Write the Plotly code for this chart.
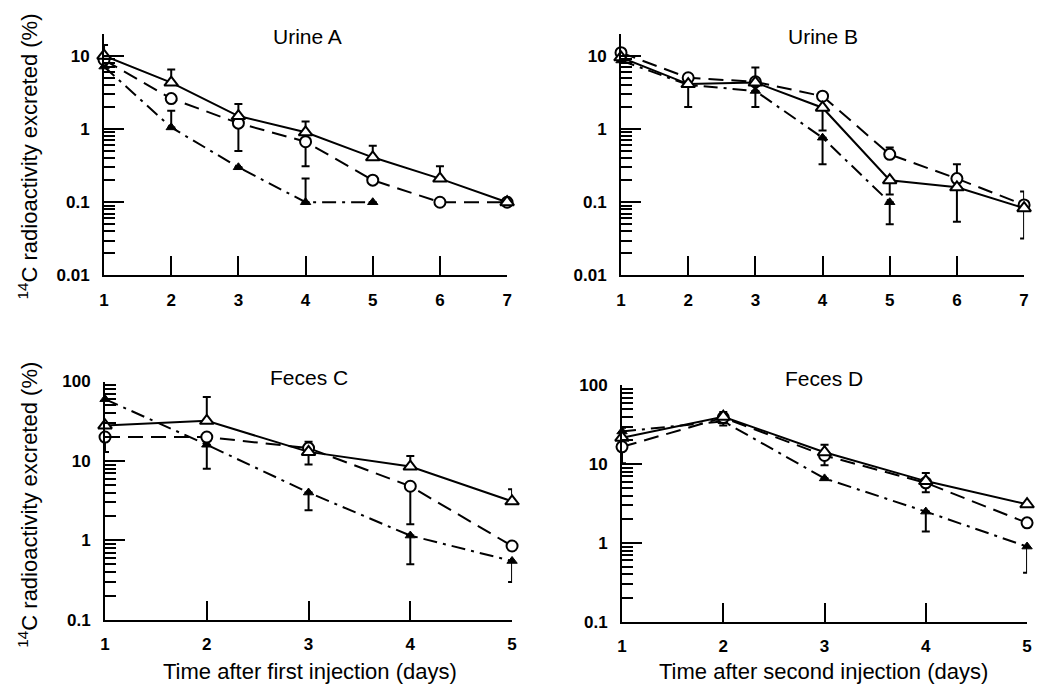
import plotly.graph_objects as go

# ---------------- data ----------------
days7 = [1, 2, 3, 4, 5, 6, 7]
days5 = [1, 2, 3, 4, 5]

# Urine A
uA_tri = [10, 4.3, 1.5, 0.9, 0.41, 0.21, 0.1]
uA_tri_hi = [14, 6.5, 2.2, 1.26, 0.59, 0.31, None]
uA_tri_lo = [None] * 7
uA_cir = [8.8, 2.6, 1.2, 0.67, 0.2, 0.1, 0.1]
uA_cir_hi = [None] * 7
uA_cir_lo = [None, None, 0.5, 0.31, None, None, None]
uA_fil = [7.1, 1.05, 0.3, 0.1, 0.1]
uA_fil_hi = [None, 1.77, None, 0.21, None]
uA_fil_lo = [None] * 5

# Urine B
uB_tri = [9.5, 4.1, 4.3, 1.95, 0.2, 0.16, 0.083]
uB_tri_hi = [None] * 7
uB_tri_lo = [None, 2.0, 2.0, 0.95, 0.128, 0.054, 0.032]
uB_cir = [11, 5.0, 4.4, 2.8, 0.45, 0.21, 0.092]
uB_cir_hi = [None, None, 6.9, 3.0, 0.56, 0.33, 0.14]
uB_cir_lo = [None] * 7
uB_fil = [8.6, 4.0, 3.3, 0.76, 0.1]
uB_fil_hi = [None] * 5
uB_fil_lo = [None, None, None, 0.33, 0.05]

# Feces C
fC_tri = [28, 32, 13, 8.5, 3.1]
fC_tri_hi = [None, 64, None, 11.5, 4.4]
fC_tri_lo = [None] * 5
fC_cir = [20, 20, 14.5, 4.8, 0.85]
fC_cir_hi = [None, None, 17.5, None, None]
fC_cir_lo = [13, 8, 9, 1.6, None]
fC_fil = [60, 16, 4.0, 1.15, 0.55]
fC_fil_hi = [None] * 5
fC_fil_lo = [None, None, 2.4, 0.5, 0.3]

# Feces D
fD_tri = [21.7, 40, 14.2, 6.1, 3.1]
fD_tri_hi = [None, None, 17.6, 7.7, None]
fD_tri_lo = [None] * 5
fD_cir = [16.6, 39, 12.9, 5.8, 1.8]
fD_cir_hi = [None, 46, None, None, None]
fD_cir_lo = [10.3, None, 9.7, 4.4, None]
fD_fil = [26, 35, 6.6, 2.5, 0.9]
fD_fil_hi = [29, None, None, None, None]
fD_fil_lo = [None, 31, None, 1.4, 0.42]

panel_titles = ["Urine A", "Urine B", "Feces C", "Feces D"]
x_titles = ["Time after first injection (days)", "Time after second injection (days)"]
y_title = "<sup>14</sup>C radioactivity excreted (%)"
top_tickvals = [0.01, 0.1, 1, 10]
top_ticktext = ["0.01", "0.1", "1", "10"]
bot_tickvals = [0.1, 1, 10, 100]
bot_ticktext = ["0.1", "1", "10", "100"]

# ---------------- figure ----------------
W, H = 1039, 694
FONT = "Liberation Sans, Arial, Helvetica, sans-serif"
fig = go.Figure()

def px_x(a, b):
    return [a / W, b / W]

def px_y(top, bottom):
    return [1 - bottom / H, 1 - top / H]

def px(xv, yv):
    return xv / W, 1 - yv / H

panels = [
    dict(xd=px_x(100, 507), yd=px_y(26, 274), xr=[1, 7], yr=[-2, 1 + 22 / 75.3],
         tv=top_tickvals, tt=top_ticktext, xt=days7),
    dict(xd=px_x(622, 1029), yd=px_y(26, 274), xr=[1, 7], yr=[-2, 1 + 22 / 75.3],
         tv=top_tickvals, tt=top_ticktext, xt=days7),
    dict(xd=px_x(101, 512), yd=px_y(383, 628), xr=[1, 5], yr=[-1, 2],
         tv=bot_tickvals, tt=bot_ticktext, xt=days5),
    dict(xd=px_x(623, 1032), yd=px_y(387, 630), xr=[1, 5], yr=[-1, 2],
         tv=bot_tickvals, tt=bot_ticktext, xt=days5),
]

series = [
    (days7, uA_tri, uA_tri_hi, uA_tri_lo, uA_cir, uA_cir_hi, uA_cir_lo, uA_fil, uA_fil_hi, uA_fil_lo),
    (days7, uB_tri, uB_tri_hi, uB_tri_lo, uB_cir, uB_cir_hi, uB_cir_lo, uB_fil, uB_fil_hi, uB_fil_lo),
    (days5, fC_tri, fC_tri_hi, fC_tri_lo, fC_cir, fC_cir_hi, fC_cir_lo, fC_fil, fC_fil_hi, fC_fil_lo),
    (days5, fD_tri, fD_tri_hi, fD_tri_lo, fD_cir, fD_cir_hi, fD_cir_lo, fD_fil, fD_fil_hi, fD_fil_lo),
]

def errs(vals, hi, lo):
    plus = [(h - v) if h is not None else 0 for v, h in zip(vals, hi)]
    minus = [(v - l) if l is not None else 0 for v, l in zip(vals, lo)]
    return plus, minus

LW = 2
TICKFONT = dict(family=FONT, size=17, color="black", weight="bold")
for i, (p, s) in enumerate(zip(panels, series)):
    n = i + 1
    xa = "x" if n == 1 else f"x{n}"
    ya = "y" if n == 1 else f"y{n}"
    x, tri, tri_hi, tri_lo, cir, cir_hi, cir_lo, fil, fil_hi, fil_lo = s
    xf = x[:len(fil)]
    specs = [
        (xf, fil, fil_hi, fil_lo, dict(dash="14px,6px,3px,6px"),
         dict(symbol="triangle-up", size=9, color="black", line=dict(color="black", width=1))),
        (x, cir, cir_hi, cir_lo, dict(dash="15px,8px"),
         dict(symbol="circle", size=11, color="white", line=dict(color="black", width=2))),
        (x, tri, tri_hi, tri_lo, dict(dash="solid"),
         dict(symbol="triangle-up", size=12, color="white", line=dict(color="black", width=2))),
    ]
    for xs, vals, hi, lo, ln, mk in specs:
        plus, minus = errs(vals, hi, lo)
        fig.add_trace(go.Scatter(
            x=xs, y=vals, mode="lines+markers", xaxis=xa, yaxis=ya,
            line=dict(color="black", width=LW, **ln), marker=mk,
            error_y=dict(type="data", symmetric=False, array=plus, arrayminus=minus,
                         color="black", thickness=2, width=4),
            cliponaxis=False, showlegend=False, hoverinfo="skip"))

    xkey = "xaxis" if n == 1 else f"xaxis{n}"
    ykey = "yaxis" if n == 1 else f"yaxis{n}"
    fig.update_layout(**{
        xkey: dict(domain=p["xd"], range=p["xr"], anchor=ya, showgrid=False, zeroline=False,
                   showline=True, linecolor="black", linewidth=2, ticks="inside", ticklen=19,
                   tickwidth=2, tickcolor="black", tickvals=p["xt"],
                   ticktext=[str(v) for v in p["xt"]], ticklabelstandoff=8,
                   ticklabeloverflow="allow", tickfont=TICKFONT),
        ykey: dict(domain=p["yd"], type="log", range=p["yr"], anchor=xa, showgrid=False,
                   zeroline=False, showline=True, linecolor="black", linewidth=2,
                   ticks="inside", ticklen=20, tickwidth=2, tickcolor="black",
                   tickvals=p["tv"], ticktext=p["tt"], ticklabelstandoff=9,
                   ticklabeloverflow="allow", tickfont=TICKFONT,
                   minor=dict(ticks="inside", ticklen=11, tickwidth=1.5, tickcolor="black",
                              dtick="D1", showgrid=False)),
    })

annotations = []
title_pos = [(305, 28), (826, 28), (307, 379), (827, 380)]
for t, (cx, cy) in zip(panel_titles, title_pos):
    ax, ay = px(cx, cy)
    annotations.append(dict(text=t, x=ax, y=ay, xref="paper", yref="paper",
                            xanchor="center", yanchor="middle", showarrow=False,
                            font=dict(family=FONT, size=21, color="black")))
for t, cx in zip(x_titles, [308, 826]):
    ax, ay = px(cx, 681)
    annotations.append(dict(text=t, x=ax, y=ay, xref="paper", yref="paper",
                            xanchor="center", yanchor="middle", showarrow=False,
                            font=dict(family=FONT, size=22, color="black")))
for cy in [152, 510]:
    ax, ay = px(23, cy)
    annotations.append(dict(text=y_title, x=ax, y=ay, xref="paper", yref="paper",
                            xanchor="center", yanchor="middle", showarrow=False, textangle=-90,
                            font=dict(family=FONT, size=22, color="black")))

fig.update_layout(width=W, height=H, margin=dict(l=0, r=0, t=0, b=0),
                  paper_bgcolor="white", plot_bgcolor="white", annotations=annotations)

# remove the default page margin so the figure sits exactly in the window
fig.write_html("out.html", config={"displayModeBar": False},
               post_script="document.body.style.margin='0px';"
                           "document.documentElement.style.overflow='hidden';")
